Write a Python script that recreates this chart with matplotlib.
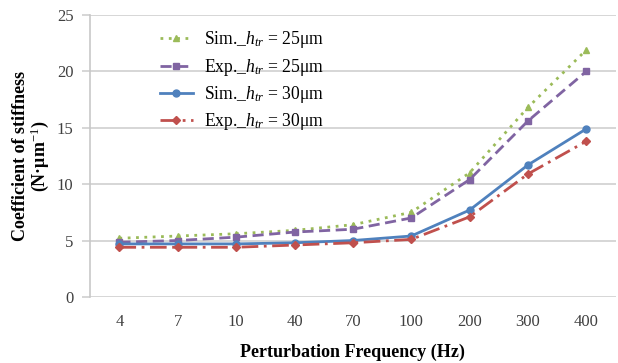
import matplotlib
matplotlib.use("Agg")
import matplotlib.pyplot as plt

plt.rcParams['font.family'] = ['Liberation Serif', 'DejaVu Serif']
plt.rcParams['mathtext.fontset'] = 'custom'
plt.rcParams['mathtext.rm'] = 'Liberation Serif'
plt.rcParams['mathtext.it'] = 'Liberation Serif:italic'

freqs = ["4", "7", "10", "40", "70", "100", "200", "300", "400"]
sim_25 = [5.2, 5.4, 5.6, 5.9, 6.4, 7.5, 11.0, 16.8, 21.9]
exp_25 = [4.85, 5.0, 5.3, 5.75, 6.0, 7.0, 10.4, 15.6, 20.0]
sim_30 = [4.7, 4.7, 4.7, 4.8, 5.0, 5.4, 7.7, 11.7, 14.9]
exp_30 = [4.4, 4.4, 4.4, 4.6, 4.8, 5.1, 7.1, 10.9, 13.8]

x = range(len(freqs))

fig = plt.figure(figsize=(6.18, 3.63), dpi=100)
ax = fig.add_axes([0.146, 0.182, 0.85, 0.777])

ax.plot(x, sim_25, color="#9BBB59", linestyle=(0, (1, 2)), linewidth=2,
        marker="^", markersize=5, label=r"Sim._$h_{tr}$ = 25μm")
ax.plot(x, exp_25, color="#8064A2", linestyle=(0, (4, 2)), linewidth=2,
        marker="s", markersize=5, label=r"Exp._$h_{tr}$ = 25μm")
ax.plot(x, sim_30, color="#4F81BD", linestyle="-", linewidth=2,
        marker="o", markersize=5, label=r"Sim._$h_{tr}$ = 30μm")
ax.plot(x, exp_30, color="#C0504D", linestyle=(0, (6, 2, 1, 2)), linewidth=2,
        marker="D", markersize=4, label=r"Exp._$h_{tr}$ = 30μm")

ax.set_xlim(-0.5, len(freqs) - 0.5)
ax.set_ylim(0, 25)
ax.set_yticks([0, 5, 10, 15, 20, 25])
ax.set_xticks(list(x))
ax.set_xticklabels(freqs)
ax.tick_params(axis="both", labelsize=12, labelcolor="#404040")
ax.tick_params(axis="x", length=0, pad=12)
ax.tick_params(axis="y", length=6, width=1.2, color="#D0D0D0", pad=6)
ax.grid(axis="y", color="#D0D0D0", linewidth=1.2)
ax.set_axisbelow(True)
for s in ["top", "right", "bottom"]:
    ax.spines[s].set_visible(False)
ax.spines["left"].set_color("#C8C8C8")
ax.spines["left"].set_linewidth(1.2)

ax.set_xlabel("Perturbation Frequency (Hz)", fontsize=13, fontweight="bold", labelpad=10)
ax.set_ylabel("Coefficient of stiffness\n(N·μm$^{-1}$)", fontsize=13,
              fontweight="bold", labelpad=4, linespacing=1.0)

ax.legend(loc="upper left", bbox_to_anchor=(0.102, 1.005), frameon=False,
          fontsize=12.7, handlelength=1.9, handletextpad=0.6, labelspacing=0.36)

fig.savefig("out.png", dpi=100)
